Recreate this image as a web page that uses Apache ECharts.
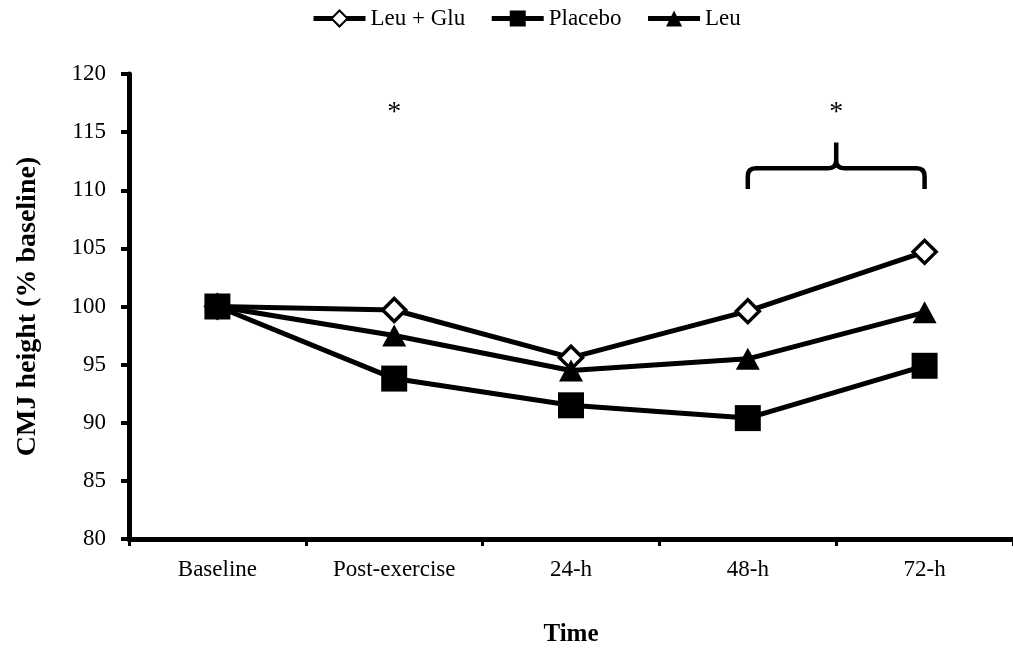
<!DOCTYPE html>
<html><head><meta charset="utf-8">
<script src="https://cdn.jsdelivr.net/npm/echarts@6/dist/echarts.min.js"></script>
<style>html,body{margin:0;padding:0;background:#fff}#c{width:1013px;height:652px}</style>
</head><body><div id="c"></div>
<script>
var categories = ['Baseline', 'Post-exercise', '24-h', '48-h', '72-h'];
var leuGlu = [100, 99.7, 95.6, 99.6, 104.7];
var placebo = [100, 93.8, 91.5, 90.4, 94.9];
var leu = [100, 97.5, 94.5, 95.5, 99.5];
var yTicks = {min: 80, max: 120, interval: 5};
var asterisks = [[1, 116.7], [3.5, 116.7]];
var bracket = {from: 3, to: 4, bottom: 110.1, level: 111.9, peak: 114.1};

var font = 'Liberation Serif';
var chart = echarts.init(document.getElementById('c'));
var lineStyle = {color: '#000', width: 5};
chart.setOption({
  animation: false,
  backgroundColor: '#fff',
  textStyle: {fontFamily: font, color: '#000'},
  legend: {
    top: 2, left: 306, itemWidth: 52, itemHeight: 20, itemGap: 24,
    lineStyle: {width: 5},
    textStyle: {fontFamily: font, fontSize: 23, color: '#000'},
    data: ['Leu + Glu', 'Placebo', 'Leu']
  },
  grid: {left: 129, right: -2, top: 74, bottom: 112},
  xAxis: {
    type: 'category', data: categories,
    name: 'Time', nameLocation: 'middle', nameGap: 83,
    nameTextStyle: {fontFamily: font, fontSize: 25, fontWeight: 'bold', color: '#000'},
    axisLine: {lineStyle: {color: '#000', width: 5}},
    axisTick: {show: true, length: 7, lineStyle: {color: '#000', width: 3}},
    axisLabel: {fontFamily: font, fontSize: 23, color: '#000', margin: 19}
  },
  yAxis: {
    type: 'value', min: yTicks.min, max: yTicks.max, interval: yTicks.interval,
    name: 'CMJ height (% baseline)', nameLocation: 'middle', nameGap: 87,
    nameTextStyle: {fontFamily: font, fontSize: 28, fontWeight: 'bold', color: '#000', padding: [0, 0, 0, 0]},
    axisLine: {show: true, lineStyle: {color: '#000', width: 5}},
    axisTick: {show: true, length: 8, lineStyle: {color: '#000', width: 4}},
    axisLabel: {fontFamily: font, fontSize: 23, color: '#000', margin: 23},
    splitLine: {show: false}
  },
  series: [
    {name: 'Leu + Glu', type: 'line', data: leuGlu, symbol: 'diamond', symbolSize: 23,
     lineStyle: lineStyle, itemStyle: {color: '#fff', borderColor: '#000', borderWidth: 3.5}, z: 4},
    {name: 'Placebo', type: 'line', data: placebo, symbol: 'rect', symbolSize: 26,
     lineStyle: lineStyle, itemStyle: {color: '#000', borderColor: '#000', borderWidth: 0}, z: 6},
    {name: 'Leu', type: 'line', data: leu, symbol: 'triangle', symbolSize: [24, 22],
     lineStyle: lineStyle, itemStyle: {color: '#000', borderColor: '#000', borderWidth: 0}, z: 4},
    {type: 'custom', data: [[0]], silent: true, z: 7,
     renderItem: function (params, api) {
       var children = [];
       asterisks.forEach(function (a) {
         var i = Math.floor(a[0]), f = a[0] - i;
         var p0 = api.coord([i, a[1]]);
         var x = p0[0];
         if (f > 0) { var p1 = api.coord([i + 1, a[1]]); x = p0[0] + (p1[0] - p0[0]) * f; }
         children.push({type: 'text', style: {text: '*', x: x, y: p0[1], align: 'center', verticalAlign: 'middle',
           fontFamily: font, fontSize: 28, fill: '#000'}});
       });
       var a = api.coord([bracket.from, bracket.level]);
       var b = api.coord([bracket.to, bracket.level]);
       var yb = api.coord([bracket.from, bracket.bottom])[1];
       var yp = api.coord([bracket.from, bracket.peak])[1];
       var x1 = a[0], x2 = b[0], yl = a[1], xm = (x1 + x2) / 2, r = 8;
       var d = 'M' + x1 + ',' + yb + 'L' + x1 + ',' + (yl + r) + 'Q' + x1 + ',' + yl + ',' + (x1 + r) + ',' + yl +
         'L' + (xm - r) + ',' + yl + 'Q' + xm + ',' + yl + ',' + xm + ',' + (yl - r) + 'L' + xm + ',' + yp +
         'M' + xm + ',' + (yl - r) + 'Q' + xm + ',' + yl + ',' + (xm + r) + ',' + yl +
         'L' + (x2 - r) + ',' + yl + 'Q' + x2 + ',' + yl + ',' + x2 + ',' + (yl + r) + 'L' + x2 + ',' + yb;
       children.push({type: 'path', shape: {pathData: d}, style: {fill: null, stroke: '#000', lineWidth: 4.5}});
       return {type: 'group', children: children};
     }}
  ]
});
</script></body></html>
